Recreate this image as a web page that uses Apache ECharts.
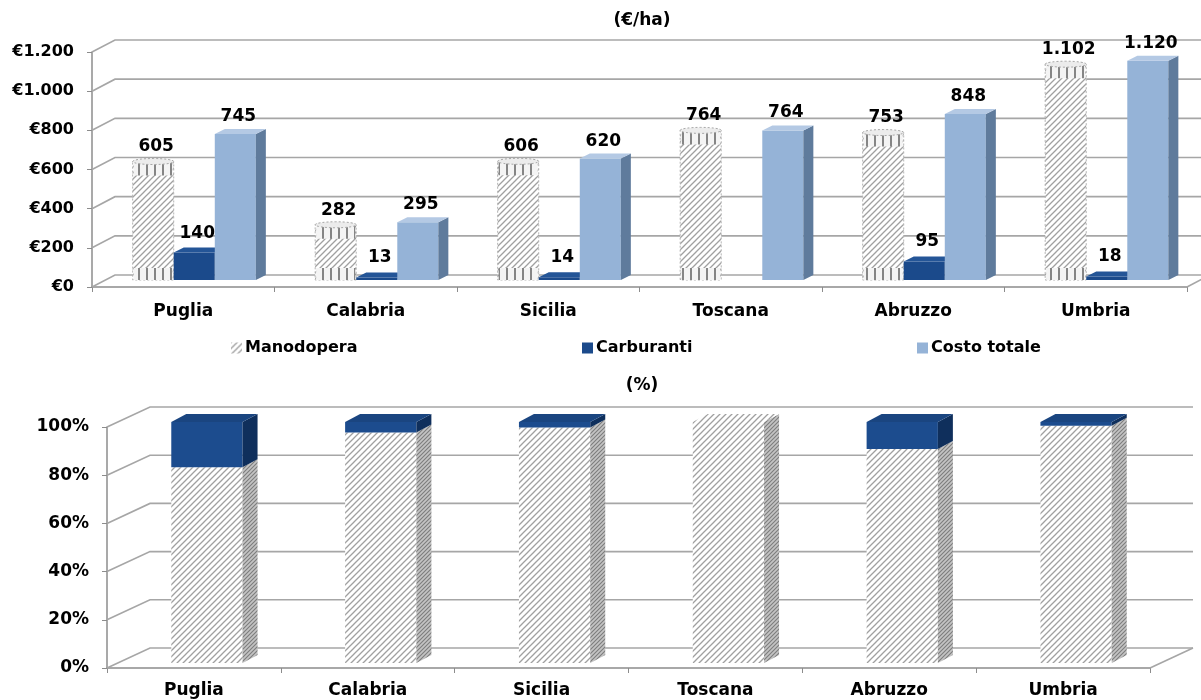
<!DOCTYPE html>
<html>
<head>
<meta charset="utf-8">
<script src="https://cdn.jsdelivr.net/npm/echarts@6/dist/echarts.min.js"></script>
<style>
  html, body { margin: 0; padding: 0; background: #ffffff; }
  #chart { width: 1201px; height: 700px; }
</style>
</head>
<body>
<div id="chart"></div>
<script>
// Costi per ettaro (€/ha) e composizione percentuale per regione
const regioni = ['Puglia', 'Calabria', 'Sicilia', 'Toscana', 'Abruzzo', 'Umbria'];
const manodopera = [605, 282, 606, 764, 753, 1102];
const carburanti = [140, 13, 14, null, 95, 18];
const costoTotale = [745, 295, 620, 764, 848, 1120];
const manodoperaPct = [81.2, 95.6, 97.7, 100, 88.8, 98.4];
const carburantiPct = [18.8, 4.4, 2.3, 0, 11.2, 1.6];
const euroTicks = [0, 200, 400, 600, 800, 1000, 1200];
const pctTicks = [0, 20, 40, 60, 80, 100];

const FONT = 'DejaVu Sans';

// ---- fill patterns ----
function makePattern(size, bg, draw) {
  const c = document.createElement('canvas');
  c.width = size; c.height = size;
  const ctx = c.getContext('2d');
  if (bg) { ctx.fillStyle = bg; ctx.fillRect(0, 0, size, size); }
  draw(ctx, size);
  return { image: c, repeat: 'repeat' };
}
function diagonal(color, width) {
  return function (ctx, s) {
    ctx.strokeStyle = color; ctx.lineWidth = width;
    ctx.beginPath();
    ctx.moveTo(0, s); ctx.lineTo(s, 0);
    ctx.moveTo(-2, 2); ctx.lineTo(2, -2);
    ctx.moveTo(s - 2, s + 2); ctx.lineTo(s + 2, s - 2);
    ctx.stroke();
  };
}
const hatch = makePattern(6, '#ffffff', diagonal('#a0a0a0', 1.3));
const hatchSide = makePattern(4, '#c4c4c4', diagonal('#7d7d7d', 1.1));
const vStripes = makePattern(8, '#f4f4f4', function (ctx) {
  ctx.fillStyle = '#858585'; ctx.fillRect(2, 0, 2, 8);
});

function fmtIt(v) {
  return String(v).replace(/\B(?=(\d{3})+(?!\d))/g, '.');
}

// ---- back wall and floor edge for a pseudo-3D plot ----
function wallRender(offset) {
  return function (params, api) {
    const cs = params.coordSys;
    const v = api.value(1);
    const y = api.coord([0, v])[1];
    const x0 = cs.x;
    const xEnd = cs.x + cs.width + offset[0];
    const st = { stroke: '#a6a6a6', lineWidth: 1.6, fill: null };
    const children = [{
      type: 'polyline',
      shape: { points: [[x0, y], [x0 + offset[0], y + offset[1]], [xEnd, y + offset[1]]] },
      style: st
    }];
    if (v === 0) {
      children.push({
        type: 'line',
        shape: { x1: cs.x + cs.width, y1: y, x2: xEnd, y2: y + offset[1] },
        style: st
      });
    }
    return { type: 'group', children: children, silent: true };
  };
}

function box(left, top, w, base, depth, front, side, topFill) {
  const h = Math.max(base - top, 0);
  const dx = depth[0], dy = depth[1];
  const parts = [
    { type: 'rect', shape: { x: left, y: top, width: w, height: h }, style: { fill: front } },
    { type: 'polygon', shape: { points: [[left + w, top], [left + w + dx, top + dy], [left + w + dx, base + dy], [left + w, base]] }, style: { fill: side } }
  ];
  if (topFill) {
    parts.push({ type: 'polygon', shape: { points: [[left, top], [left + w, top], [left + w + dx, top + dy], [left + dx, top + dy]] }, style: { fill: topFill } });
  }
  return parts;
}

// ---- upper chart: grouped bars ----
const TOP_SHIFT = [11, -7];
const TOP_DEPTH = [10, -5];
const LABEL_GAP = [6, 11, 9];
function topBarRender(slot) {
  return function (params, api) {
    const cat = api.value(0);
    const val = api.value(1);
    if (val == null || isNaN(val)) return;
    const band = api.size([1, 0])[0];
    const w = band * 0.225;
    const c = api.coord([cat, val]);
    const b = api.coord([cat, 0]);
    const left = c[0] + (slot - 1.5) * w + TOP_SHIFT[0];
    const top = c[1] + TOP_SHIFT[1];
    const base = b[1] + TOP_SHIFT[1];
    let children;
    if (slot === 0) {
      const h = base - top;
      children = [
        { type: 'rect', shape: { x: left, y: top, width: w, height: h }, style: { fill: hatch, stroke: '#b4b4b4', lineWidth: 1, lineDash: [2, 2] } },
        { type: 'rect', shape: { x: left + 1, y: base - 12, width: w - 2, height: 12 }, style: { fill: vStripes } },
        { type: 'rect', shape: { x: left + 1, y: top, width: w - 2, height: Math.min(14, h) }, style: { fill: vStripes } },
        { type: 'ellipse', shape: { cx: left + w / 2, cy: top, rx: w / 2, ry: 3 }, style: { fill: '#ececec', stroke: '#a8a8a8', lineWidth: 1, lineDash: [2, 2] } }
      ];
    } else if (slot === 1) {
      children = box(left, top, w, base, TOP_DEPTH, '#1b4a8b', '#103262', '#245597');
    } else {
      children = box(left, top, w, base, TOP_DEPTH, '#95b3d7', '#5f7b9c', '#b4c9e4');
    }
    children.push({
      type: 'text',
      style: {
        text: fmtIt(val), x: left + w / 2 + 3, y: top - LABEL_GAP[slot],
        align: 'center', verticalAlign: 'bottom',
        font: 'bold 17px "' + FONT + '"', fill: '#000000'
      }
    });
    return { type: 'group', children: children };
  };
}

// ---- lower chart: 100% stacked bars ----
const BOT_SHIFT = [13, -5];
const BOT_DEPTH = [15, -8];
function stackRender(kind) {
  return function (params, api) {
    const cat = api.value(0);
    const val = api.value(1);
    const from = api.value(2);
    const isTop = api.value(3) === 1;
    if (!(val > 0)) return;
    const band = api.size([1, 0])[0];
    const w = band * 0.41;
    const c = api.coord([cat, from + val]);
    const b = api.coord([cat, from]);
    const left = c[0] - w / 2 + BOT_SHIFT[0];
    const top = c[1] + BOT_SHIFT[1];
    const base = b[1] + BOT_SHIFT[1];
    const parts = kind === 'm'
      ? box(left, top, w, base, BOT_DEPTH, hatch, hatchSide, isTop ? hatch : null)
      : box(left, top, w, base, BOT_DEPTH, '#1c4c8e', '#0f2f5c', isTop ? '#1a4580' : null);
    return { type: 'group', children: parts };
  };
}

const topManodopera = manodopera.map((v, i) => [i, v]);
const topCarburanti = carburanti.map((v, i) => [i, v]);
const topCosto = costoTotale.map((v, i) => [i, v]);
const botManodopera = manodoperaPct.map((v, i) => [i, v, 0, carburantiPct[i] > 0 ? 0 : 1]);
const botCarburanti = carburantiPct.map((v, i) => [i, v, manodoperaPct[i], 1]);

const axisLabelFont = { fontFamily: FONT, fontWeight: 'bold', color: '#000000' };
const axisLineStyle = { lineStyle: { color: '#8c8c8c', width: 1.5 } };

const legendCommon = {
  top: 340, itemWidth: 11, itemHeight: 11, icon: 'rect', padding: 0,
  selectedMode: false,
  textStyle: { fontFamily: FONT, fontWeight: 'bold', fontSize: 16, color: '#000000', padding: [0, 0, 0, -2] }
};

const option = {
  animation: false,
  backgroundColor: '#ffffff',
  title: [
    { text: '(€/ha)', left: 637, top: 7, textAlign: 'center', textStyle: { fontFamily: FONT, fontWeight: 'bold', fontSize: 17, color: '#000' } },
    { text: '(%)', left: 637, top: 372, textAlign: 'center', textStyle: { fontFamily: FONT, fontWeight: 'bold', fontSize: 17, color: '#000' } }
  ],
  legend: [
    Object.assign({ left: 231, data: [{ name: 'Manodopera', itemStyle: { color: hatch } }] }, legendCommon),
    Object.assign({ left: 582, data: ['Carburanti'] }, legendCommon),
    Object.assign({ left: 917, data: ['Costo totale'] }, legendCommon)
  ],
  grid: [
    { left: 92, right: 14, top: 52, bottom: 413 },
    { left: 107, right: 51, top: 427, bottom: 32 }
  ],
  xAxis: [
    {
      gridIndex: 0, type: 'category', data: regioni,
      axisLine: axisLineStyle,
      axisTick: { show: true, length: 5, lineStyle: { color: '#8c8c8c' } },
      axisLabel: Object.assign({ fontSize: 17, margin: 16 }, axisLabelFont)
    },
    {
      gridIndex: 1, type: 'category', data: regioni,
      axisLine: axisLineStyle,
      axisTick: { show: true, length: 5, lineStyle: { color: '#8c8c8c' } },
      axisLabel: Object.assign({ fontSize: 17, margin: 14 }, axisLabelFont)
    }
  ],
  yAxis: [
    {
      gridIndex: 0, type: 'value', min: 0, max: 1200, interval: 200,
      axisLine: Object.assign({ show: true }, axisLineStyle),
      axisTick: { show: true, length: 5, lineStyle: { color: '#8c8c8c' } },
      splitLine: { show: false },
      axisLabel: Object.assign({ fontSize: 16, margin: 18, formatter: v => '€' + fmtIt(v) }, axisLabelFont)
    },
    {
      gridIndex: 1, type: 'value', min: 0, max: 100, interval: 20,
      axisLine: Object.assign({ show: true }, axisLineStyle),
      axisTick: { show: true, length: 5, lineStyle: { color: '#8c8c8c' } },
      splitLine: { show: false },
      axisLabel: Object.assign({ fontSize: 17, margin: 18, formatter: v => v + '%' }, axisLabelFont)
    }
  ],
  series: [
    {
      type: 'custom', name: 'wall', xAxisIndex: 0, yAxisIndex: 0, silent: true, z: 1,
      data: euroTicks.map(v => [0, v]), encode: { x: 0, y: 1 },
      renderItem: wallRender([23, -12])
    },
    {
      type: 'custom', name: 'wall2', xAxisIndex: 1, yAxisIndex: 1, silent: true, z: 1,
      data: pctTicks.map(v => [0, v]), encode: { x: 0, y: 1 },
      renderItem: wallRender([43, -20])
    },
    {
      type: 'custom', name: 'Manodopera', xAxisIndex: 0, yAxisIndex: 0, z: 3,
      itemStyle: { color: hatch }, data: topManodopera, encode: { x: 0, y: 1 },
      renderItem: topBarRender(0)
    },
    {
      type: 'custom', name: 'Carburanti', xAxisIndex: 0, yAxisIndex: 0, z: 3,
      itemStyle: { color: '#1b4a8b' }, data: topCarburanti, encode: { x: 0, y: 1 },
      renderItem: topBarRender(1)
    },
    {
      type: 'custom', name: 'Costo totale', xAxisIndex: 0, yAxisIndex: 0, z: 3,
      itemStyle: { color: '#95b3d7' }, data: topCosto, encode: { x: 0, y: 1 },
      renderItem: topBarRender(2)
    },
    {
      type: 'custom', name: 'Manodopera', xAxisIndex: 1, yAxisIndex: 1, z: 3,
      itemStyle: { color: hatch }, data: botManodopera, encode: { x: 0, y: 1 },
      renderItem: stackRender('m')
    },
    {
      type: 'custom', name: 'Carburanti', xAxisIndex: 1, yAxisIndex: 1, z: 3,
      itemStyle: { color: '#1b4a8b' }, data: botCarburanti, encode: { x: 0, y: 1 },
      renderItem: stackRender('c')
    }
  ]
};

const chart = echarts.init(document.getElementById('chart'), null, { renderer: 'canvas' });
chart.setOption(option);
</script>
</body>
</html>
